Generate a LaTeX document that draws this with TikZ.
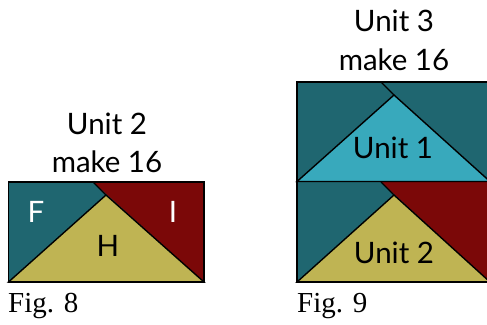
\documentclass[tikz,border=0pt]{standalone}
\usepackage{fontspec}
\setmainfont{Lato}
\newfontfamily\figfont{Liberation Serif}
\definecolor{teal}{HTML}{1F6670}
\definecolor{maroon}{HTML}{7B0808}
\definecolor{olive}{HTML}{BFB453}
\definecolor{aqua}{HTML}{38A9BC}
\tikzset{
 patch/.style={draw=black,line width=1.4pt,line join=miter},
 lab/.style={font=\fontsize{29.5}{30}\selectfont,inner sep=0pt,anchor=center},
 fig/.style={font=\figfont\fontsize{29}{29}\selectfont,inner sep=0pt,anchor=base west}
}
\begin{document}
\begin{tikzpicture}[x=1pt,y=-1pt]
\useasboundingbox (0,0) rectangle (487,324);
% Fig 8
\fill[teal] (8.5,182) rectangle (204,282);
\fill[maroon] (93,182) -- (204,182) -- (204,282) -- cycle;
\draw[patch,fill=olive] (8.5,282) -- (106,195) -- (204,282) -- cycle;
\draw[patch] (93,182) -- (106,195);
\draw[patch] (8.5,182) rectangle (204,282);
\node[lab] (u2) at (107,124) {Unit 2};
\node[lab] (m2) at (107,162) {make 16};
\node[lab,text=white] (f) at (36,212) {F};
\node[lab,text=white] (i) at (173,212) {I};
\node[lab] (h) at (108,246) {H};
\node[fig] (f8) at (8,312) {Fig. 8};
% Fig 9
\fill[teal] (297,82) rectangle (490,282);
\fill[maroon] (381,182) -- (490,182) -- (490,282) -- cycle;
\draw[patch,fill=aqua] (297,181.5) -- (394,95) -- (490,181.5) -- cycle;
\draw[patch,fill=olive] (297,282) -- (394,195) -- (490,282) -- cycle;
\draw[patch] (381,82) -- (394,95);
\draw[patch] (381,182) -- (394,195);
\draw[patch] (297,82) rectangle (490,282);
\draw[patch] (297,181.5) -- (490,181.5);
\node[lab] (u3) at (394,21) {Unit 3};
\node[lab] (m3) at (394,60) {make 16};
\node[lab] (u1) at (393,148) {Unit 1};
\node[lab] (u22) at (394,253) {Unit 2};
\node[fig] (f9) at (297,312) {Fig. 9};
\end{tikzpicture}
\end{document}
